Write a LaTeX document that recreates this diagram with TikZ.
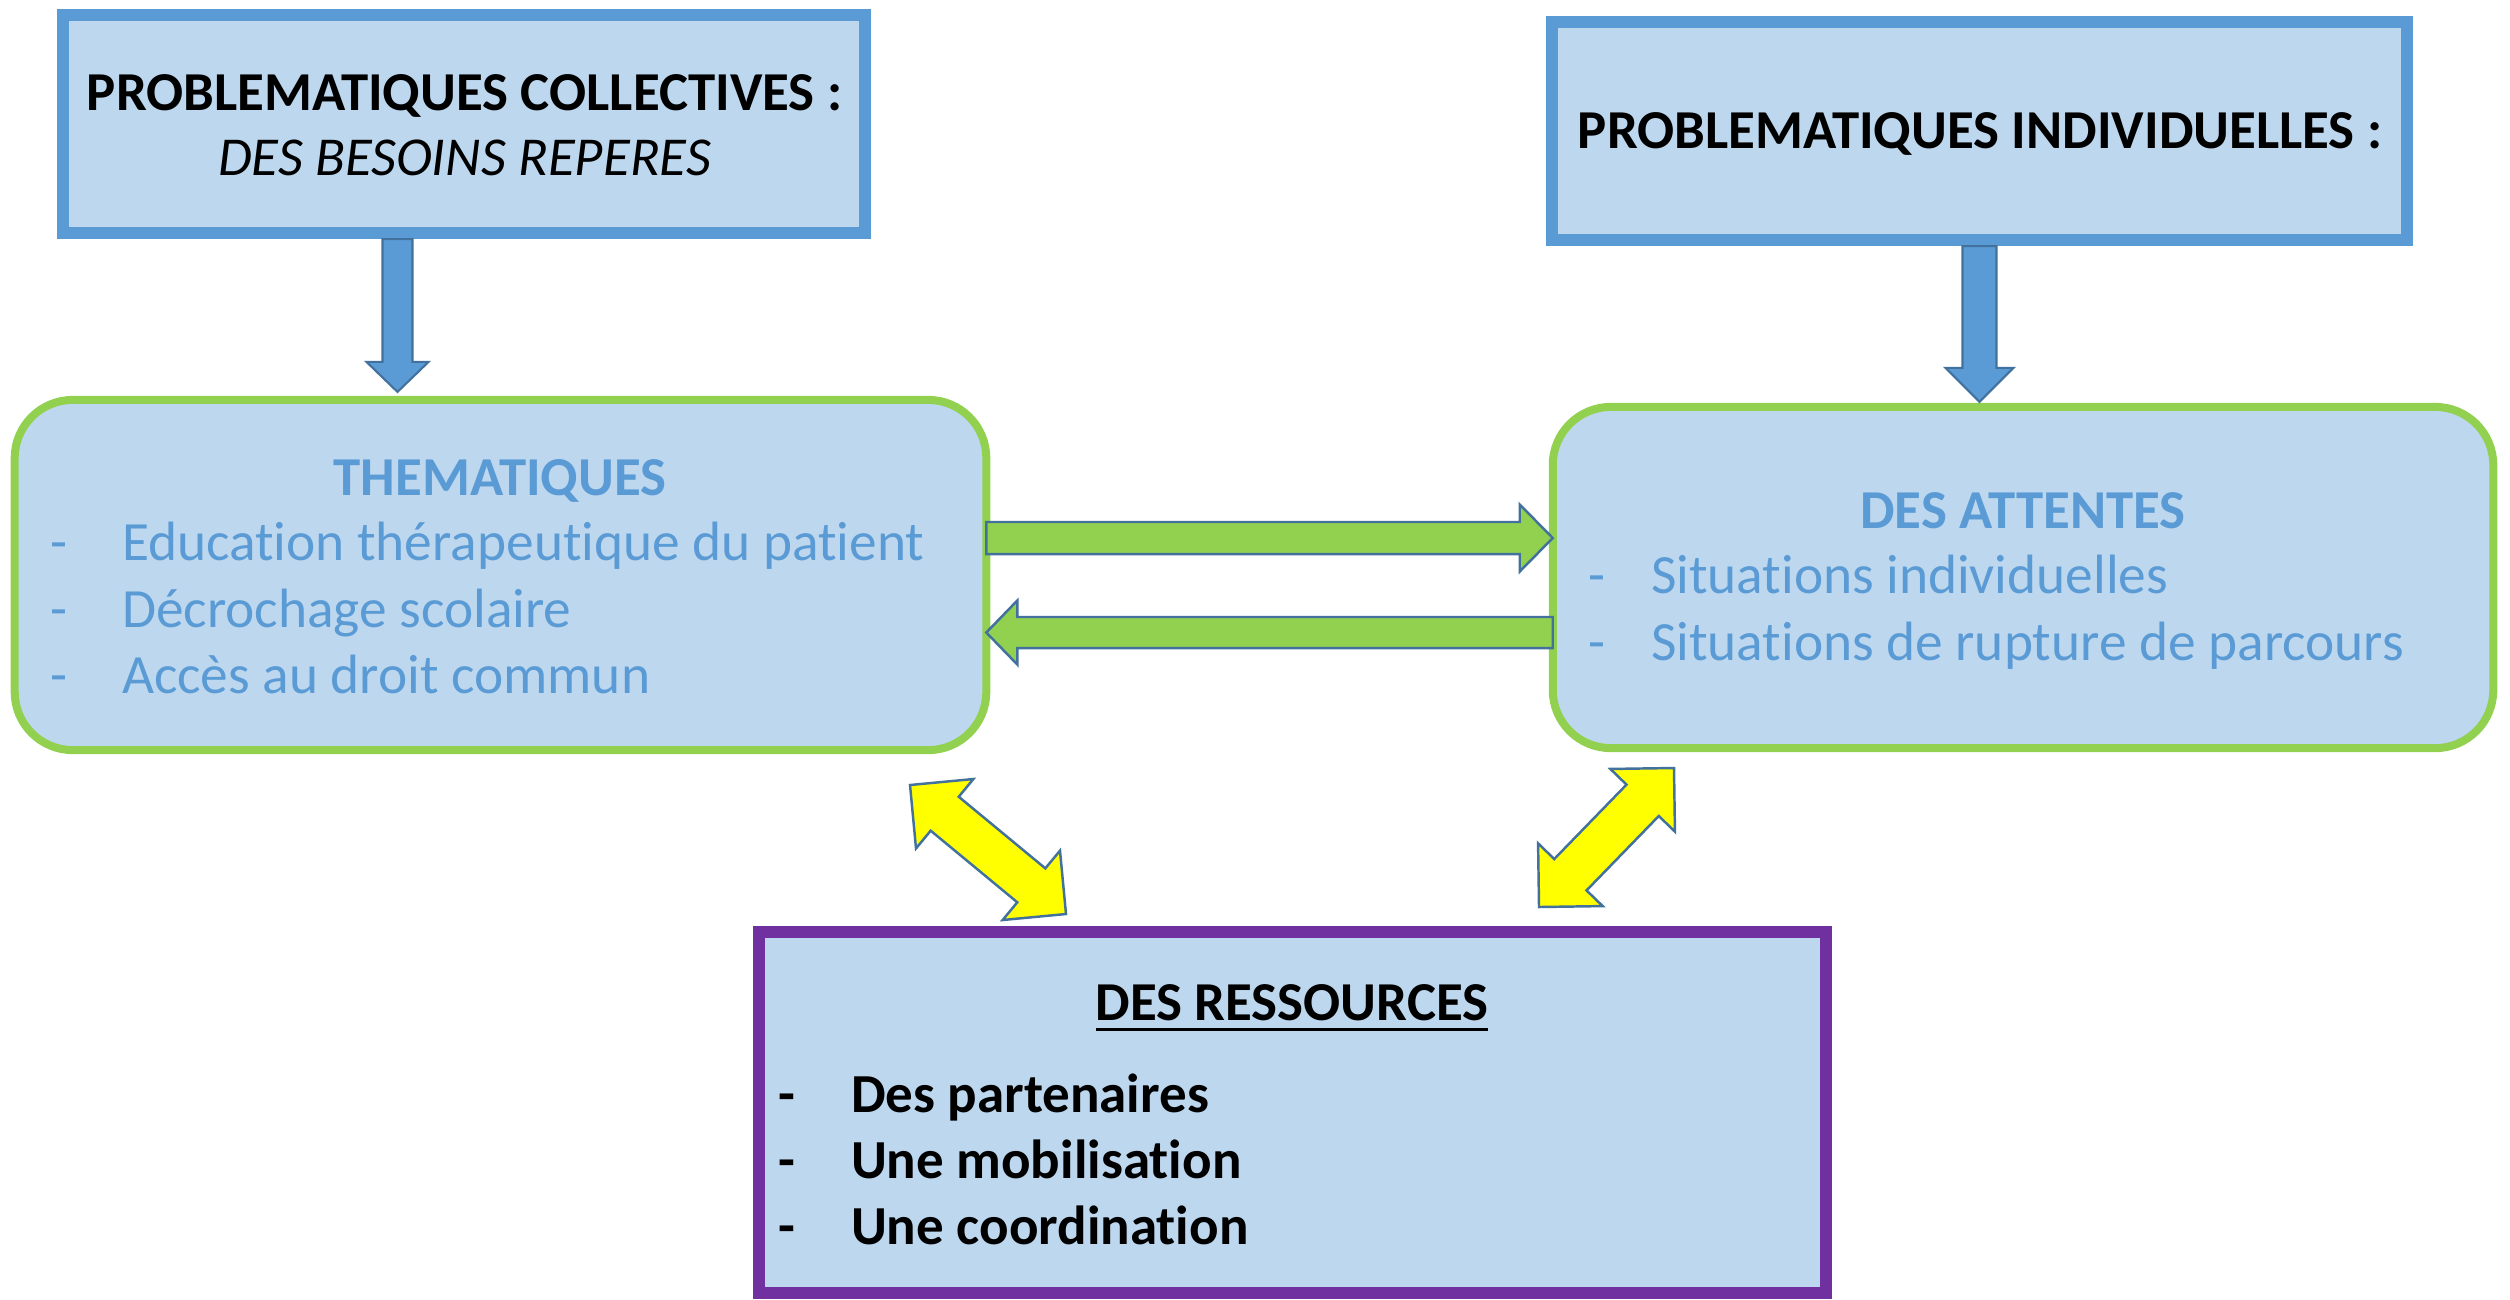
\documentclass[tikz,border=0pt]{standalone}
\usepackage{fontspec}
\setmainfont{Carlito}[Ligatures=NoCommon]
\usetikzlibrary{calc}
\definecolor{boxfill}{HTML}{BDD7EE}
\definecolor{bblue}{HTML}{5B9BD5}
\definecolor{dblue}{HTML}{41719C}
\definecolor{lgreen}{HTML}{92D050}
\definecolor{purp}{HTML}{7030A0}
\definecolor{yel}{HTML}{FFFF00}
% single block arrow from #1 (tail) to #2 (tip); #3 half shaft, #4 half head, #5 head length, #6 style
\newcommand\sblockarrow[6]{%
  \coordinate (sbC) at ($(#2)!#5!(#1)$);
  \path[#6] ($(#1)!#3!90:(#2)$) -- ($(sbC)!#3!-90:(#1)$) -- ($(sbC)!#4!-90:(#1)$) -- (#2)
    -- ($(sbC)!#4!90:(#1)$) -- ($(sbC)!#3!90:(#1)$) -- ($(#1)!#3!-90:(#2)$) -- cycle;}
% double block arrow between tips #1 and #2
\newcommand\dblockarrow[6]{%
  \coordinate (dbA) at ($(#1)!#5!(#2)$);
  \coordinate (dbB) at ($(#2)!#5!(#1)$);
  \path[#6] (#1) -- ($(dbA)!#4!90:(#2)$) -- ($(dbA)!#3!90:(#2)$) -- ($(dbB)!#3!-90:(#1)$)
    -- ($(dbB)!#4!-90:(#1)$) -- (#2) -- ($(dbB)!#4!90:(#1)$) -- ($(dbB)!#3!90:(#1)$)
    -- ($(dbA)!#3!-90:(#2)$) -- ($(dbA)!#4!-90:(#2)$) -- cycle;}
\begin{document}
\begin{tikzpicture}[x=0.01cm,y=-0.01cm,
  every node/.style={inner sep=0pt,outer sep=0pt},
  probbox/.style={rectangle,draw=bblue,fill=boxfill,line width=0.12cm},
  thembox/.style={rectangle,draw=lgreen,fill=boxfill,line width=0.08cm,rounded corners=0.58cm},
  resbox/.style={rectangle,draw=purp,fill=boxfill,line width=0.12cm},
  txt/.style={anchor=base,font=\fontsize{15.75}{19}\selectfont},
  txtb/.style={anchor=base,font=\fontsize{15.6}{19}\selectfont\bfseries},
  txti/.style={anchor=base,font=\fontsize{15.6}{19}\selectfont\itshape},
  item/.style={txt,anchor=base west,text=bblue},
  itemb/.style={anchor=base west,font=\fontsize{15.65}{19}\selectfont\bfseries},
  bluearrow/.style={fill=bblue,draw=dblue,line width=0.6pt},
  greenarrow/.style={fill=lgreen,draw=dblue,line width=0.7pt},
  yelarrow/.style={fill=yel,draw=dblue,line width=0.7pt}]
\useasboundingbox (0,0) rectangle (2510,1299);

% boxes
\node[probbox,minimum width=8.02cm,minimum height=2.18cm] (b1) at (464,124) {};
\node[probbox,minimum width=8.55cm,minimum height=2.18cm] (b2) at (1979.5,131) {};
\node[thembox,minimum width=9.71cm,minimum height=3.50cm] (g1) at (500.5,575) {};
\node[thembox,minimum width=9.40cm,minimum height=3.41cm] (g2) at (2023,577.5) {};
\node[resbox,minimum width=10.67cm,minimum height=3.61cm] (r) at (1292.5,1112.5) {};

% texts
\node[txtb] (b1t) at (464.5,110) {PROBLEMATIQUES COLLECTIVES :};
\node[txti] (b1s) at (464.5,175) {DES BESOINS REPERES};
\node[txtb] (b2t) at (1980,148) {PROBLEMATIQUES INDIVIDUELLES :};

\node[txtb,text=bblue] (g1t) at (500,495) {THEMATIQUES};
\node[item] (g1d1) at (50,560) {-};
\node[item] (g1d2) at (50,627) {-};
\node[item] (g1d3) at (50,693) {-};
\node[item] (g1i1) at (122,560) {Education thérapeutique du patient};
\node[item] (g1i2) at (122,627) {Décrochage scolaire};
\node[item] (g1i3) at (122,693) {Accès au droit commun};

\node[txtb,text=bblue] (g2t) at (2023,528) {DES ATTENTES};
\node[item] (g2d1) at (1588,593) {-};
\node[item] (g2d2) at (1588,660) {-};
\node[item] (g2i1) at (1651,593) {Situations individuelles};
\node[item] (g2i2) at (1651,660) {Situations de rupture de parcours};

\node[txtb] (rt) at (1292,1020) {DES RESSOURCES};
\draw[line width=0.03cm] ([yshift=-0.09cm]rt.base west) -- ([yshift=-0.09cm]rt.base east);
\node[itemb] (rd1) at (778,1112) {-};
\node[itemb] (rd2) at (778,1178) {-};
\node[itemb] (rd3) at (778,1244) {-};
\node[itemb] (ri1) at (851,1112) {Des partenaires};
\node[itemb] (ri2) at (851,1178) {Une mobilisation};
\node[itemb] (ri3) at (851,1244) {Une coordination};

% blue arrows
\coordinate (colA) at (397.5,0);
\coordinate (bA1) at ($(b1.south -| colA)+(0,6)$);
\coordinate (bB1) at ($(colA |- g1.north)+(0,-8)$);
\sblockarrow{bA1}{bB1}{0.15cm}{0.31cm}{0.30cm}{bluearrow}
\coordinate (bA2) at ($(b2.south)+(0,6)$);
\coordinate (bB2) at ($(b2.south |- g2.north)+(0,-5)$);
\sblockarrow{bA2}{bB2}{0.17cm}{0.34cm}{0.34cm}{bluearrow}

% green arrows
\coordinate (rowA) at (0,538);
\coordinate (rowB) at (0,632.5);
\coordinate (gA1) at (g1.east |- rowA);
\coordinate (gB1) at (g2.west |- rowA);
\sblockarrow{gA1}{gB1}{0.16cm}{0.335cm}{0.33cm}{greenarrow}
\coordinate (gA2) at (g2.west |- rowB);
\coordinate (gB2) at (g1.east |- rowB);
\sblockarrow{gA2}{gB2}{0.155cm}{0.32cm}{0.31cm}{greenarrow}

% yellow double arrows
\coordinate (y1a) at (910,785);
\coordinate (y1b) at (1066,914);
\dblockarrow{y1a}{y1b}{0.22cm}{0.45cm}{0.45cm}{yelarrow}
\coordinate (y2a) at (1539,907);
\coordinate (y2b) at (1674,768);
\dblockarrow{y2a}{y2b}{0.225cm}{0.45cm}{0.45cm}{yelarrow}
\end{tikzpicture}
\end{document}
